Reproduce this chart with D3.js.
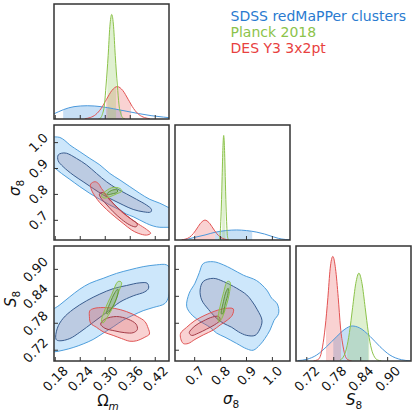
<!DOCTYPE html>
<html>
<head>
<meta charset="utf-8">
<script src="https://cdn.jsdelivr.net/npm/d3@7"></script>
<style>
  body { margin: 0; background: #fff; }
  svg { display: block; font-family: "DejaVu Sans", sans-serif; }
</style>
</head>
<body>
<svg id="chart" width="416" height="416"></svg>
<script>
// ---- axes: ranges and ticks ----
const omRange = [0.177, 0.453];
const sig8Range = [0.624, 1.068];
const S8Range = [0.696, 0.952];
const omTicks = [0.18, 0.24, 0.30, 0.36, 0.42];
const sig8Ticks = [0.7, 0.8, 0.9, 1.0];
const S8Ticks = [0.72, 0.78, 0.84, 0.90];
const omTickLabels = ["0.18", "0.24", "0.30", "0.36", "0.42"];
const sig8TickLabels = ["0.7", "0.8", "0.9", "1.0"];
const S8TickLabels = ["0.72", "0.78", "0.84", "0.90"];

const datasets = ["sdss", "des", "planck"];
const legendNames = ["SDSS redMaPPer clusters", "Planck 2018", "DES Y3 3x2pt"];

// ---- 1D marginals [value, density] ----
const omSdss1D = [[0.160,0.025],[0.177,0.05],[0.20,0.09],[0.225,0.118],[0.257,0.127],[0.29,0.118],[0.32,0.098],[0.35,0.075],[0.38,0.052],[0.41,0.032],[0.44,0.018],[0.46,0.010]];
const omDes1D = [[0.251,0.003],[0.264,0.014],[0.277,0.042],[0.290,0.100],[0.303,0.188],[0.316,0.273],[0.329,0.310],[0.342,0.273],[0.355,0.188],[0.368,0.100],[0.381,0.042],[0.394,0.014],[0.407,0.003]];
const omPlanck1D = [[0.284,0.002],[0.289,0.011],[0.293,0.044],[0.298,0.135],[0.302,0.325],[0.307,0.607],[0.311,0.882],[0.3155,1.0],[0.320,0.882],[0.324,0.607],[0.329,0.325],[0.333,0.135],[0.338,0.044],[0.342,0.011],[0.347,0.002]];

const sig8Sdss1D = [[0.650,0.0],[0.675,0.010],[0.700,0.025],[0.740,0.048],[0.780,0.075],[0.820,0.090],[0.862,0.096],[0.900,0.090],[0.940,0.075],[0.970,0.057],[1.000,0.033],[1.023,0.016],[1.050,0.005],[1.068,0.001]];
const sig8Des1D = [[0.650,0.002],[0.665,0.009],[0.680,0.026],[0.695,0.062],[0.710,0.115],[0.725,0.167],[0.740,0.190],[0.755,0.167],[0.770,0.115],[0.785,0.062],[0.800,0.026],[0.815,0.009],[0.830,0.002]];
const sig8Planck1D = [[0.792,0.002],[0.795,0.011],[0.798,0.044],[0.800,0.135],[0.803,0.325],[0.806,0.607],[0.809,0.882],[0.812,1.0],[0.815,0.882],[0.818,0.607],[0.821,0.325],[0.824,0.135],[0.826,0.044],[0.829,0.011],[0.832,0.002]];

const S8Sdss1D = [[0.700,0.004],[0.720,0.016],[0.742,0.057],[0.764,0.137],[0.787,0.235],[0.805,0.305],[0.821,0.335],[0.837,0.318],[0.861,0.235],[0.883,0.137],[0.905,0.057],[0.931,0.012],[0.950,0.002]];
const S8Des1D = [[0.735,0.001],[0.744,0.011],[0.750,0.044],[0.755,0.135],[0.761,0.325],[0.767,0.607],[0.772,0.882],[0.778,1.0],[0.784,0.882],[0.790,0.607],[0.795,0.325],[0.801,0.135],[0.806,0.044],[0.812,0.011],[0.820,0.001]];
const S8Planck1D = [[0.794,0.009],[0.801,0.037],[0.808,0.114],[0.815,0.273],[0.822,0.51],[0.829,0.74],[0.836,0.84],[0.843,0.74],[0.850,0.51],[0.857,0.273],[0.864,0.114],[0.871,0.037],[0.878,0.009],[0.886,0.001]];

// shaded 68% intervals
const omIntervals = { sdss: [0.199, 0.34], des: [0.302, 0.362], planck: [0.305, 0.326] };
const sig8Intervals = { sdss: [0.778, 0.922], des: [0.699, 0.778], planck: [0.806, 0.818] };
const S8Intervals = { sdss: [0.779, 0.857], des: [0.763, 0.796], planck: [0.810, 0.859] };

// ---- 2D contours [x, y] (outer = 95%, inner = 68%) ----
// Omega_m vs sigma_8
const omSig8Sdss95 = [[0.150,1.030],[0.167,1.023],[0.191,1.020],[0.203,1.008],[0.215,0.991],[0.239,0.965],[0.263,0.939],[0.287,0.914],[0.311,0.881],[0.335,0.856],[0.359,0.830],[0.383,0.804],[0.407,0.781],[0.431,0.766],[0.451,0.750],[0.471,0.733],[0.471,0.669],[0.451,0.673],[0.431,0.673],[0.415,0.678],[0.399,0.688],[0.383,0.701],[0.367,0.714],[0.351,0.724],[0.335,0.740],[0.311,0.759],[0.287,0.781],[0.263,0.804],[0.239,0.830],[0.215,0.858],[0.195,0.881],[0.175,0.907],[0.159,0.926],[0.150,0.940]];
const omSig8Sdss68 = [[0.187,0.952],[0.195,0.959],[0.207,0.959],[0.231,0.939],[0.255,0.914],[0.279,0.881],[0.303,0.849],[0.327,0.823],[0.351,0.802],[0.375,0.781],[0.399,0.759],[0.411,0.742],[0.409,0.732],[0.391,0.733],[0.367,0.742],[0.343,0.759],[0.319,0.778],[0.295,0.798],[0.271,0.823],[0.247,0.849],[0.223,0.875],[0.199,0.907],[0.187,0.930]];
const omSig8Des95 = [[0.265,0.840],[0.275,0.849],[0.283,0.843],[0.291,0.823],[0.303,0.798],[0.319,0.766],[0.339,0.733],[0.359,0.708],[0.379,0.686],[0.399,0.665],[0.409,0.650],[0.399,0.643],[0.379,0.650],[0.363,0.663],[0.343,0.688],[0.323,0.714],[0.303,0.742],[0.287,0.768],[0.275,0.794],[0.267,0.817]];
const omSig8Des68 = [[0.286,0.802],[0.295,0.807],[0.307,0.785],[0.323,0.759],[0.343,0.730],[0.363,0.704],[0.377,0.686],[0.374,0.675],[0.359,0.682],[0.339,0.704],[0.319,0.733],[0.302,0.763],[0.290,0.785]];
const omSig8Planck95 = [[0.291,0.794],[0.302,0.814],[0.319,0.827],[0.335,0.823],[0.340,0.813],[0.327,0.802],[0.311,0.791],[0.297,0.786]];
const omSig8Planck68 = [[0.305,0.804],[0.318,0.817],[0.329,0.817],[0.329,0.809],[0.316,0.802],[0.305,0.799]];

// Omega_m vs S_8
const omS8Sdss95 = [[0.167,0.802],[0.191,0.821],[0.215,0.839],[0.239,0.856],[0.263,0.869],[0.295,0.880],[0.327,0.891],[0.359,0.899],[0.391,0.906],[0.423,0.910],[0.447,0.910],[0.457,0.899],[0.455,0.869],[0.452,0.839],[0.443,0.824],[0.415,0.815],[0.391,0.808],[0.367,0.798],[0.343,0.787],[0.319,0.772],[0.295,0.758],[0.271,0.744],[0.247,0.734],[0.223,0.726],[0.199,0.720],[0.175,0.716],[0.159,0.716]];
const omS8Sdss68 = [[0.182,0.744],[0.185,0.769],[0.199,0.791],[0.223,0.811],[0.255,0.830],[0.287,0.845],[0.319,0.857],[0.351,0.864],[0.383,0.870],[0.401,0.869],[0.404,0.858],[0.395,0.850],[0.367,0.841],[0.335,0.827],[0.303,0.804],[0.271,0.782],[0.239,0.760],[0.215,0.746],[0.191,0.741]];
const omS8Des95 = [[0.263,0.808],[0.273,0.813],[0.295,0.815],[0.323,0.813],[0.351,0.806],[0.377,0.795],[0.395,0.784],[0.403,0.769],[0.406,0.756],[0.395,0.749],[0.375,0.741],[0.359,0.740],[0.339,0.746],[0.319,0.753],[0.295,0.761],[0.279,0.771],[0.265,0.780],[0.262,0.795]];
const omS8Des68 = [[0.289,0.778],[0.299,0.789],[0.327,0.795],[0.355,0.789],[0.374,0.778],[0.377,0.766],[0.367,0.759],[0.347,0.759],[0.323,0.763],[0.299,0.769]];
const omS8Planck95 = [[0.291,0.784],[0.299,0.810],[0.315,0.843],[0.331,0.873],[0.339,0.871],[0.331,0.847],[0.319,0.817],[0.303,0.791],[0.295,0.781]];
const omS8Planck68 = [[0.303,0.802],[0.311,0.824],[0.323,0.848],[0.330,0.856],[0.331,0.849],[0.324,0.828],[0.313,0.810],[0.305,0.801]];

// sigma_8 vs S_8
const sig8S8Sdss95 = [[0.733,0.913],[0.772,0.917],[0.811,0.910],[0.843,0.901],[0.888,0.887],[0.939,0.875],[0.978,0.854],[0.997,0.836],[1.019,0.823],[1.024,0.802],[1.006,0.786],[0.991,0.765],[0.971,0.746],[0.952,0.732],[0.926,0.720],[0.901,0.723],[0.862,0.735],[0.817,0.749],[0.785,0.758],[0.759,0.771],[0.714,0.787],[0.684,0.802],[0.669,0.818],[0.679,0.847],[0.701,0.869],[0.718,0.893]];
const sig8S8Sdss68 = [[0.721,0.854],[0.733,0.873],[0.772,0.880],[0.811,0.873],[0.862,0.858],[0.901,0.843],[0.920,0.830],[0.942,0.810],[0.960,0.786],[0.950,0.765],[0.933,0.753],[0.901,0.753],[0.869,0.761],[0.843,0.771],[0.811,0.780],[0.785,0.791],[0.753,0.811],[0.727,0.832]];
const sig8S8Des95 = [[0.646,0.758],[0.669,0.771],[0.701,0.786],[0.740,0.798],[0.778,0.807],[0.817,0.813],[0.849,0.812],[0.845,0.798],[0.826,0.787],[0.798,0.776],[0.772,0.765],[0.733,0.754],[0.701,0.744],[0.675,0.735],[0.656,0.735],[0.646,0.746]];
const sig8S8Des68 = [[0.679,0.759],[0.701,0.774],[0.733,0.785],[0.769,0.794],[0.793,0.795],[0.798,0.787],[0.778,0.777],[0.746,0.767],[0.714,0.758],[0.688,0.753]];
const sig8S8Planck95 = [[0.790,0.789],[0.798,0.817],[0.811,0.847],[0.826,0.873],[0.836,0.872],[0.834,0.847],[0.821,0.817],[0.805,0.791],[0.795,0.783]];
const sig8S8Planck68 = [[0.803,0.801],[0.811,0.828],[0.821,0.850],[0.829,0.858],[0.829,0.847],[0.818,0.823],[0.808,0.801]];

// ---- styling ----
const colors = {
  sdss:   { line: "#4a98dc", fill1d: "rgba(80,155,225,0.32)", out: "#cde7fb", outLine: "#4f9fdc", inn: "#bccbe2", innLine: "#3a5d8f" },
  des:    { line: "#e35252", fill1d: "rgba(235,95,95,0.28)", out: "rgba(232,80,80,0.26)", outLine: "#e05555", inn: "rgba(190,50,60,0.17)", innLine: "#a53c48" },
  planck: { line: "#8cc34a", fill1d: "rgba(150,205,100,0.3)", out: "rgba(150,200,90,0.3)", outLine: "#8cc34a", inn: "rgba(100,160,50,0.2)", innLine: "#5d9436" }
};
const legendColors = ["#2a7bd0", "#8cc34a", "#e8413f"];

const svg = d3.select("#chart");
const W = 115, GAP = 6, X0 = 54, Y0 = 4;
const ranges = [omRange, sig8Range, S8Range];
const ticks = [omTicks, sig8Ticks, S8Ticks];
const tickLabels = [omTickLabels, sig8TickLabels, S8TickLabels];
const xs = ranges.map((r, j) => d3.scaleLinear().domain(r).range([X0 + j * (W + GAP), X0 + j * (W + GAP) + W]));
const ys = ranges.map((r, i) => d3.scaleLinear().domain(r).range([Y0 + i * (W + GAP) + W, Y0 + i * (W + GAP)]));
const pdfY = i => d3.scaleLinear().domain([0, 1.1]).range([Y0 + i * (W + GAP) + W, Y0 + i * (W + GAP)]);

const marginals = [
  { sdss: omSdss1D, des: omDes1D, planck: omPlanck1D, iv: omIntervals },
  { sdss: sig8Sdss1D, des: sig8Des1D, planck: sig8Planck1D, iv: sig8Intervals },
  { sdss: S8Sdss1D, des: S8Des1D, planck: S8Planck1D, iv: S8Intervals }
];
const pairs = [
  { row: 1, col: 0, sdss: [omSig8Sdss95, omSig8Sdss68], des: [omSig8Des95, omSig8Des68], planck: [omSig8Planck95, omSig8Planck68] },
  { row: 2, col: 0, sdss: [omS8Sdss95, omS8Sdss68], des: [omS8Des95, omS8Des68], planck: [omS8Planck95, omS8Planck68] },
  { row: 2, col: 1, sdss: [sig8S8Sdss95, sig8S8Sdss68], des: [sig8S8Des95, sig8S8Des68], planck: [sig8S8Planck95, sig8S8Planck68] }
];

const defs = svg.append("defs");
function clipFor(id, x0, y0, w, h) {
  defs.append("clipPath").attr("id", id).append("rect").attr("x", x0).attr("y", y0).attr("width", w).attr("height", h);
  return "url(#" + id + ")";
}

// 1D panels
marginals.forEach((m, i) => {
  const x = xs[i], y = pdfY(i);
  const g = svg.append("g").attr("clip-path", clipFor("p" + i + i, x.range()[0], y.range()[1], W, W));
  const area = d3.area().x(d => x(d[0])).y0(y(0)).y1(d => y(d[1])).curve(d3.curveMonotoneX);
  const line = d3.line().x(d => x(d[0])).y(d => y(d[1])).curve(d3.curveMonotoneX);
  datasets.forEach(ds => {
    const iv = m.iv[ds];
    const cid = clipFor("iv" + i + ds, x(iv[0]), y.range()[1], x(iv[1]) - x(iv[0]), W);
    g.append("path").attr("d", area(m[ds])).attr("fill", colors[ds].fill1d).attr("clip-path", cid);
  });
  datasets.forEach(ds => {
    g.append("path").attr("d", line(m[ds])).attr("fill", "none").attr("stroke", colors[ds].line).attr("stroke-width", 1);
  });
});

// 2D panels
pairs.forEach(p => {
  const x = xs[p.col], y = ys[p.row];
  const g = svg.append("g").attr("clip-path", clipFor("p" + p.row + p.col, x.range()[0], y.range()[1], W, W));
  const path = d3.line().x(d => x(d[0])).y(d => y(d[1])).curve(d3.curveCatmullRomClosed.alpha(0.5));
  datasets.forEach(ds => {
    const c = colors[ds];
    g.append("path").attr("d", path(p[ds][0])).attr("fill", c.out).attr("stroke", c.outLine).attr("stroke-width", 1);
    g.append("path").attr("d", path(p[ds][1])).attr("fill", c.inn).attr("stroke", c.innLine).attr("stroke-width", 1);
  });
});

// frames and ticks
const frameColor = "#333";
const panels = [[0, 0], [1, 0], [1, 1], [2, 0], [2, 1], [2, 2]];
const labelFs = 13;
function rotLabel(str, mode, px, py) {
  const t = svg.append("text").attr("font-size", labelFs).attr("fill", "#111")
    .attr("text-anchor", "middle").attr("dy", "0.36em").text(str);
  const side = (t.node().getComputedTextLength() + 0.73 * labelFs) / Math.SQRT2;
  const cx = mode === "x" ? px : px - 5 - side / 2;
  const cy = mode === "x" ? py + 4 + side / 2 : py;
  t.attr("transform", "translate(" + cx + "," + cy + ") rotate(-45)");
}
panels.forEach(([r, c]) => {
  const x = xs[c], yTop = Y0 + r * (W + GAP), yBot = yTop + W, xLeft = x.range()[0];
  const g = svg.append("g");
  ticks[c].forEach((v, k) => {
    g.append("line").attr("x1", x(v)).attr("x2", x(v)).attr("y1", yBot).attr("y2", yBot - 4)
      .attr("stroke", frameColor).attr("stroke-width", 1);
    if (r === 2) rotLabel(tickLabels[c][k], "x", x(v), yBot);
  });
  if (r !== c) {
    const y = ys[r];
    ticks[r].forEach((v, k) => {
      g.append("line").attr("x1", xLeft).attr("x2", xLeft + 4).attr("y1", y(v)).attr("y2", y(v))
        .attr("stroke", frameColor).attr("stroke-width", 1);
      if (c === 0) rotLabel(tickLabels[r][k], "y", xLeft, y(v));
    });
  }
  g.append("rect").attr("x", xLeft).attr("y", yTop).attr("width", W).attr("height", W)
    .attr("fill", "none").attr("stroke", frameColor).attr("stroke-width", 1.5);
});

// axis titles (math style)
function mathLabel(sym, symItalic, sub, subItalic, x, y, rotate) {
  const t = svg.append("text").attr("font-size", 15).attr("fill", "#111").attr("text-anchor", "middle")
    .attr("transform", "translate(" + x + "," + y + ")" + (rotate ? " rotate(-90)" : ""));
  t.append("tspan").attr("font-style", symItalic ? "italic" : "normal").text(sym);
  t.append("tspan").attr("font-size", 10.5).attr("dy", 3.5).attr("font-style", subItalic ? "italic" : "normal").text(sub);
}
mathLabel("\u03A9", false, "m", true, 108, 406, false);
mathLabel("\u03C3", true, "8", false, 231, 404, false);
mathLabel("S", true, "8", false, 354, 405, false);
mathLabel("\u03C3", true, "8", false, 20, 188, true);
mathLabel("S", true, "8", false, 16, 299, true);

// legend
legendNames.forEach((name, k) => {
  svg.append("text").attr("x", 230.5).attr("y", 20.5 + k * 16.4).attr("font-size", 14)
    .attr("fill", legendColors[k]).text(name);
});
</script>
</body>
</html>
